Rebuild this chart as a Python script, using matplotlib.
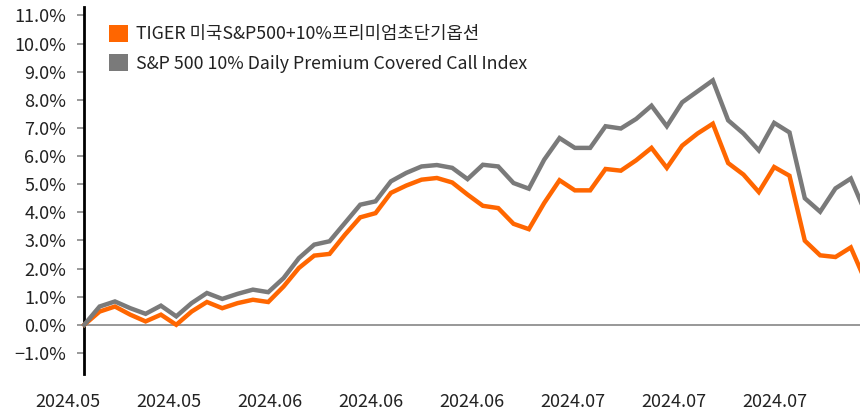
import matplotlib
matplotlib.use('Agg')
import matplotlib.pyplot as plt
from matplotlib.patches import Patch
import numpy as np

plt.rcParams['font.family'] = ['Noto Sans CJK KR', 'DejaVu Sans']

# series values (%), one point per observation
tiger = [0.0, 0.47, 0.65, 0.36, 0.12, 0.36, 0.0, 0.47, 0.81, 0.59,
         0.77, 0.89, 0.81, 1.36, 2.02, 2.46, 2.52, 3.2, 3.82, 3.97,
         4.69, 4.95, 5.16, 5.22, 5.06, 4.63, 4.23, 4.15, 3.59, 3.4,
         4.33, 5.14, 4.78, 4.78, 5.54, 5.48, 5.85, 6.29, 5.58, 6.37,
         6.8, 7.15, 5.75, 5.34, 4.72, 5.61, 5.3, 2.99, 2.47, 2.41,
         2.75, 1.5]
index = [0.0, 0.65, 0.83, 0.59, 0.39, 0.68, 0.3, 0.77, 1.13, 0.92,
         1.1, 1.25, 1.16, 1.66, 2.37, 2.85, 2.97, 3.62, 4.27, 4.39,
         5.1, 5.4, 5.63, 5.68, 5.58, 5.18, 5.69, 5.63, 5.04, 4.84,
         5.87, 6.64, 6.29, 6.29, 7.06, 6.98, 7.32, 7.79, 7.06, 7.91,
         8.3, 8.69, 7.27, 6.8, 6.2, 7.18, 6.84, 4.5, 4.02, 4.85,
         5.2, 3.93]

series_names = ['TIGER 미국S&P500+10%프리미엄초단기옵션',
                'S&P 500 10% Daily Premium Covered Call Index']
date_labels = ['2024.05', '2024.05', '2024.06', '2024.06', '2024.06',
               '2024.07', '2024.07', '2024.07']
y_ticks = list(range(-1, 12))

ORANGE = '#FF6600'
GRAY = '#7A7A7A'

fig = plt.figure(figsize=(8.6, 4.11), dpi=100)
# axes starts a bit left of the y spine so the first date label fits
ax = fig.add_axes([0.0766, 0.09, 0.9234, 0.893])

x = np.arange(len(tiger))
ax.plot(x, tiger, color=ORANGE, linewidth=3.2, solid_joinstyle='miter', zorder=3)
ax.plot(x, index, color=GRAY, linewidth=3.2, solid_joinstyle='miter', zorder=3)

ax.axhline(0, xmin=1.2 / 51.8, color='#868686', linewidth=1.2, zorder=2)

ax.set_yticks(y_ticks)
ax.set_yticklabels([f'{v:.1f}%'.replace('-', '−') for v in y_ticks])
ax.tick_params(axis='y', length=5, width=1.2, color='#888888', pad=8,
               labelsize=13, labelcolor='#222222')

# date labels are spaced ~6.6 observations apart, first one left of the start
xt = [-1.05 + 6.59 * i for i in range(len(date_labels))]
ax.set_xticks(xt)
ax.set_xticklabels(date_labels)
ax.tick_params(axis='x', length=0, pad=14, labelsize=13, labelcolor='#222222')

ax.set_xlim(-1.2, 50.6)
ax.set_ylim(-1.75, 11.3)

for s in ['top', 'right', 'bottom']:
    ax.spines[s].set_visible(False)
ax.spines['left'].set_position(('data', 0))
ax.spines['left'].set_linewidth(2)
ax.spines['left'].set_color('black')

handles = [Patch(facecolor=ORANGE, edgecolor='none'),
           Patch(facecolor=GRAY, edgecolor='none')]
ax.legend(handles, series_names, loc='upper left',
          bbox_to_anchor=(109 / 860, 1 - 25 / 411), bbox_transform=fig.transFigure,
          frameon=False, fontsize=12.8, handlelength=1.07, handleheight=1.07,
          handletextpad=0.45, labelspacing=0.62, borderpad=0, borderaxespad=0,
          labelcolor='#222222')

fig.savefig('out.png', dpi=100)
